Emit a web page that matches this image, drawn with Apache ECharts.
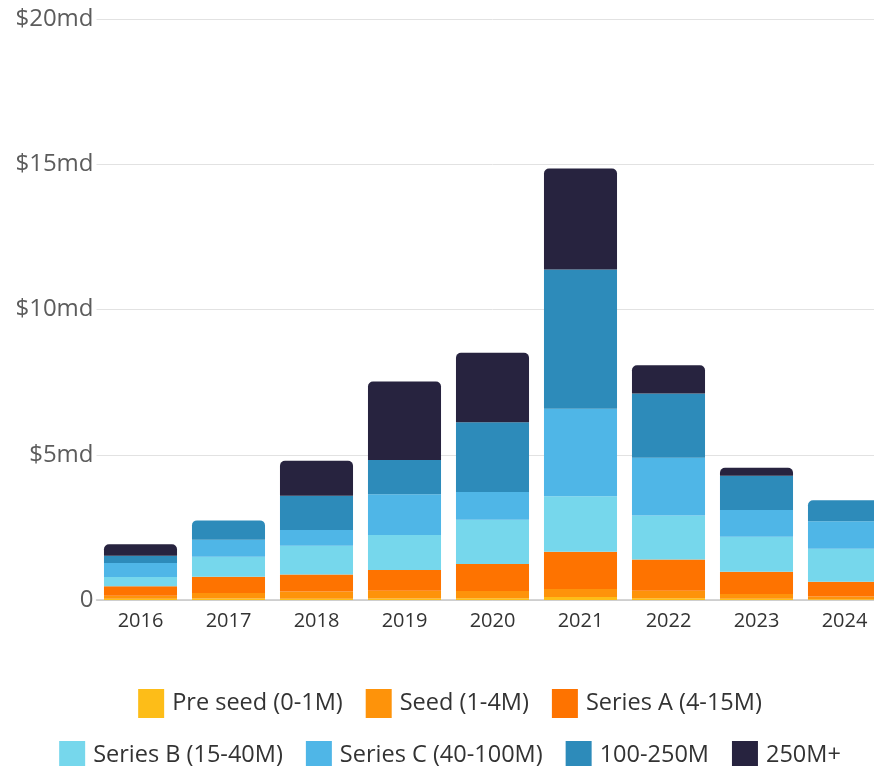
<!DOCTYPE html>
<html>
<head>
<meta charset="utf-8">
<script src="https://cdn.jsdelivr.net/npm/echarts@6/dist/echarts.min.js"></script>
<style>
  html, body { margin: 0; padding: 0; background: #fff; overflow: hidden; }
  #chart { width: 900px; height: 766px; }
</style>
</head>
<body>
<div id="chart"></div>
<script>
// Funding volume per year by round size, in billions ($md)
const years = ['2016', '2017', '2018', '2019', '2020', '2021', '2022', '2023', '2024'];

const preSeed = [0.04, 0.05, 0.04, 0.05, 0.06, 0.10, 0.06, 0.04, 0.03];
const seed    = [0.11, 0.19, 0.25, 0.27, 0.25, 0.28, 0.26, 0.17, 0.09];
const seriesA = [0.32, 0.56, 0.59, 0.71, 0.93, 1.28, 1.07, 0.76, 0.51];
const seriesB = [0.32, 0.69, 0.99, 1.21, 1.52, 1.91, 1.52, 1.21, 1.13];
const seriesC = [0.48, 0.58, 0.54, 1.40, 0.96, 3.01, 1.99, 0.92, 0.95];
const mid     = [0.25, 0.67, 1.18, 1.18, 2.40, 4.80, 2.21, 1.18, 0.72];
const large   = [0.40, 0.00, 1.20, 2.70, 2.39, 3.47, 0.97, 0.27, 0.00];

const seriesNames = [
  'Pre seed (0-1M)', 'Seed (1-4M)', 'Series A (4-15M)',
  'Series B (15-40M)', 'Series C (40-100M)', '100-250M', '250M+'
];
const seriesValues = [preSeed, seed, seriesA, seriesB, seriesC, mid, large];
const colors = ['#FDBD18', '#FE930A', '#FE7300', '#76D7EC', '#4FB6E7', '#2D8BBA', '#27233F'];

const yTicks = { min: 0, max: 20, interval: 5 };
const fontFamily = '"Open Sans", "Noto Sans", sans-serif';

// index of the top-most non-empty segment for each year, which gets rounded corners
const topIndex = years.map((_, i) => {
  let top = 0;
  seriesValues.forEach((vals, s) => { if (vals[i] > 0) top = s; });
  return top;
});

const series = seriesValues.map((vals, s) => ({
  name: seriesNames[s],
  type: 'bar',
  stack: 'total',
  barWidth: '83%',
  itemStyle: { color: colors[s] },
  emphasis: { disabled: true },
  data: vals.map((v, i) => topIndex[i] === s
    ? { value: v, itemStyle: { borderRadius: [5, 5, 0, 0] } }
    : v)
}));

const legendCommon = {
  left: 'center',
  itemWidth: 26,
  itemHeight: 29,
  itemGap: 23,
  icon: 'rect',
  selectedMode: false,
  textStyle: { fontFamily, fontSize: 23.5, color: '#333', padding: [0, 0, 0, 3] }
};

const chart = echarts.init(document.getElementById('chart'));
chart.setOption({
  animation: false,
  color: colors,
  grid: { left: 96.5, right: 11.5, top: 19, bottom: 166 },
  xAxis: {
    type: 'category',
    data: years,
    axisTick: { show: false },
    axisLine: { lineStyle: { color: '#c8c8c8', width: 1.5 } },
    axisLabel: { fontFamily, fontSize: 20, color: '#333', margin: 11 }
  },
  yAxis: {
    type: 'value',
    min: yTicks.min,
    max: yTicks.max,
    interval: yTicks.interval,
    axisLine: { show: false },
    axisTick: { show: false },
    splitLine: { lineStyle: { color: '#e2e2e2', width: 1 } },
    axisLabel: {
      fontFamily, fontSize: 24, color: '#5c5c5c', margin: 3,
      formatter: v => v === 0 ? '0' : '$' + v + 'md'
    }
  },
  legend: [
    Object.assign({ top: 684, data: seriesNames.slice(0, 3) }, legendCommon),
    Object.assign({ top: 736, data: seriesNames.slice(3) }, legendCommon)
  ],
  series
});
</script>
</body>
</html>
